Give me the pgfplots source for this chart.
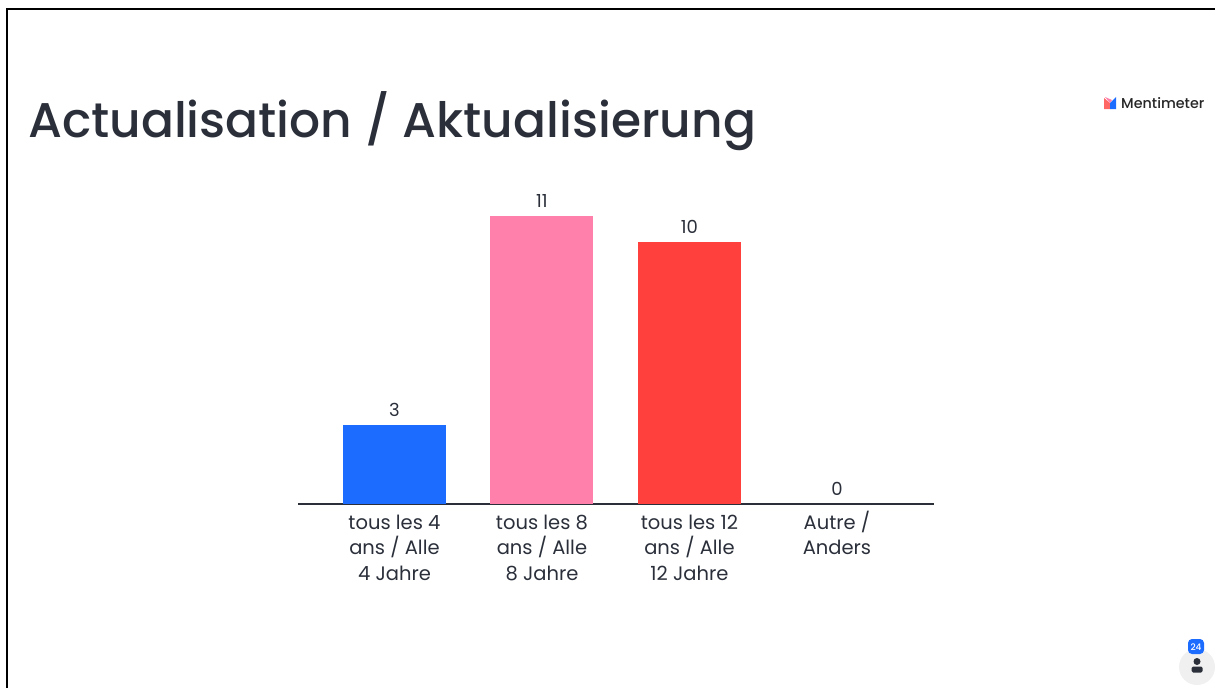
\documentclass[border=0pt]{standalone}
\usepackage{fontspec}
\setmainfont{Poppins}
\newfontfamily\medfont{Poppins Medium}
\usepackage{pgfplots}
\pgfplotsset{compat=1.18}
\definecolor{ink}{HTML}{2A2F3A}
\definecolor{mblue}{HTML}{1C6CFF}
\definecolor{mpink}{HTML}{FF80AB}
\definecolor{mred}{HTML}{FF403D}
\newcommand{\fl}{\rule{0pt}{20pt}}
\begin{document}
\begin{tikzpicture}[x=1pt,y=1pt]
\path[use as bounding box] (0,0) rectangle (1215,-688);
% frame
\draw[black,line width=2pt] (7,-688) -- (7,-9) -- (1215,-9);
% title
\node[anchor=base west,inner sep=0pt,text=ink,font=\medfont\fontsize{48.7}{56}\selectfont] at (28,-137) {Actualisation / Aktualisierung};
% logo
\fill[mred!80] (1104,-98) -- (1110,-103) -- (1110,-109) -- (1104,-109) -- cycle;
\fill[mpink] (1105,-97) -- (1110,-103) -- (1112,-100) -- cycle;
\fill[mblue] (1116,-97) -- (1116,-109) -- (1110,-109) -- (1110,-103) -- cycle;
\node[anchor=base west,inner sep=0pt,text=black!85,font=\medfont\fontsize{14.3}{16}\selectfont] at (1121,-108) {Mentimeter};
% audience badge
\fill[black!6] (1197,-667) circle (18);
\fill[mblue,rounded corners=4pt] (1188,-639) rectangle (1204,-654);
\node[text=white,inner sep=0pt,font=\medfont\fontsize{9}{10}\selectfont] at (1196,-647) {24};
\fill[ink] (1197,-661.5) circle (3.5);
\fill[ink,rounded corners=1.5pt] (1191.5,-672.5) rectangle (1202.5,-666.5);
\begin{axis}[
  at={(298pt,-504pt)},anchor=south west,
  scale only axis,width=636pt,height=288pt,
  xmin=-0.654,xmax=3.658,ymin=0,ymax=11,
  axis x line=bottom,axis y line=none,
  x axis line style={-,draw=ink,line width=2.2pt},
  xtick={0,1,2,3},
  xticklabels={{\fl tous les 4\\ans / Alle\\4 Jahre},{\fl tous les 8\\ans / Alle\\8 Jahre},{\fl tous les 12\\ans / Alle\\12 Jahre},{\fl Autre /\\Anders}},
  x tick label style={align=center,text=ink,font=\fontsize{19.5}{25.5}\selectfont,anchor=north,yshift=-1.5pt},
  major tick length=0pt,
  clip=false,
  ybar,bar width=103pt,bar shift=0pt,
  nodes near coords,
  /pgf/number format/assume math mode=true,
  every node near coord/.append style={text=ink,font=\fontsize{18}{20}\selectfont,yshift=5pt},
]
\addplot[draw=none,fill=mblue] coordinates {(0,3)};
\addplot[draw=none,fill=mpink] coordinates {(1,11)};
\addplot[draw=none,fill=mred] coordinates {(2,10)};
\addplot[draw=none,fill=none] coordinates {(3,0)};
\end{axis}
\end{tikzpicture}
\end{document}
